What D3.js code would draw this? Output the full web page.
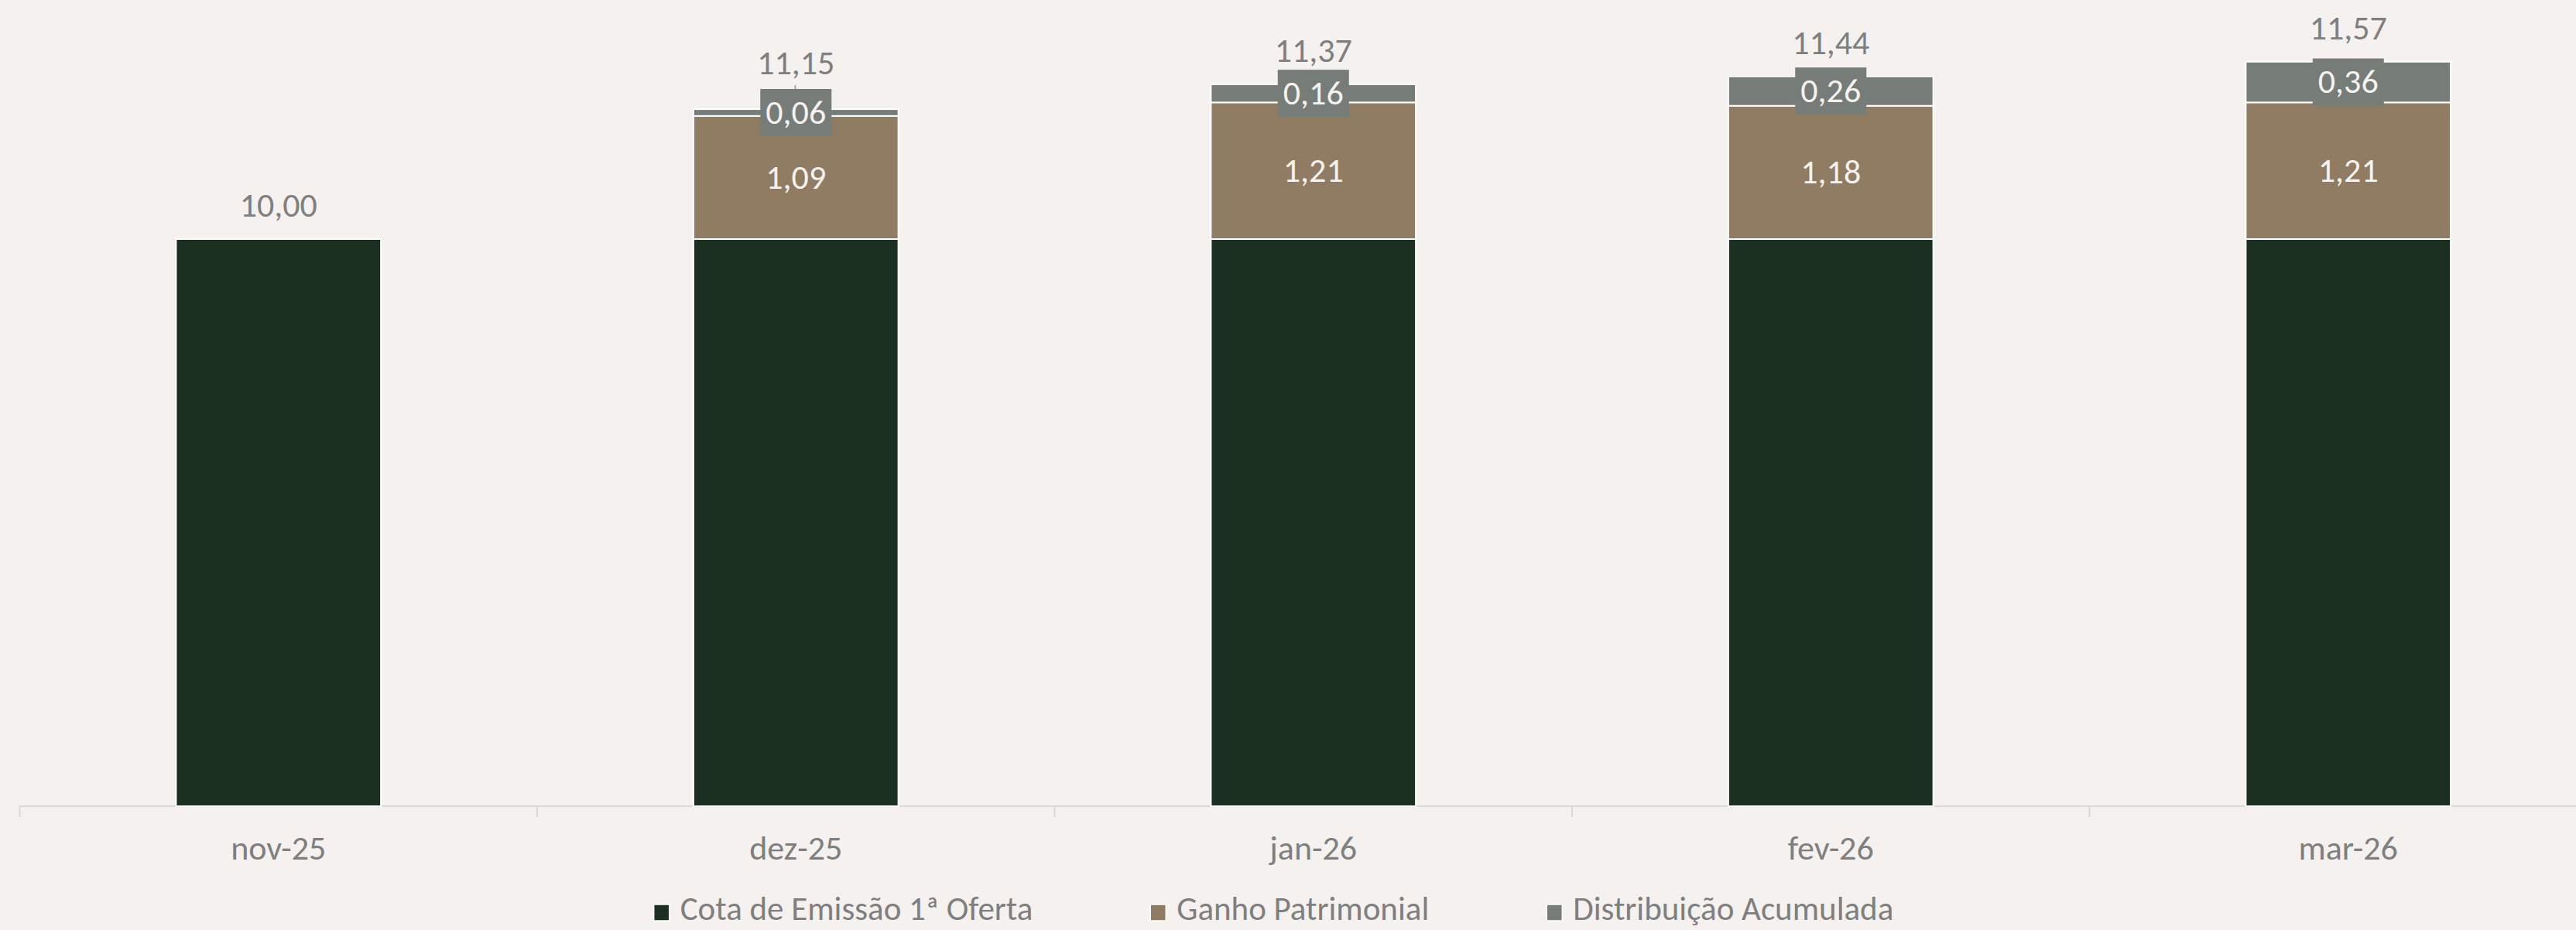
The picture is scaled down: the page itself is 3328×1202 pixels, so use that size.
<!DOCTYPE html>
<html>
<head>
<meta charset="utf-8">
<script src="https://cdn.jsdelivr.net/npm/d3@7.9.0/dist/d3.min.js"></script>
<style>
  html, body { margin: 0; padding: 0; background: #f4f1ee; }
  svg { display: block; }
  text { font-family: Calibri, Carlito, Lato, sans-serif; }
</style>
</head>
<body>
<div id="chart"></div>
<script>
// ---- data ----
const categories = ['nov-25', 'dez-25', 'jan-26', 'fev-26', 'mar-26'];
const cotaEmissao = [10.00, 10.00, 10.00, 10.00, 10.00];
const ganhoPatrimonial = [0, 1.09, 1.21, 1.18, 1.21];
const distribuicao = [0, 0.06, 0.16, 0.26, 0.36];
const seriesNames = ['Cota de Emissão 1ª Oferta', 'Ganho Patrimonial', 'Distribuição Acumulada'];

// ---- layout ----
const width = 3328;
const height = 1202;
const baseY = 1042;
const colors = ['#1b3021', '#8f7c63', '#767d78'];
const grayText = '#7f7f7f';
const fontSize = 44;

const rows = categories.map((c, i) => ({
  cat: c,
  cota: cotaEmissao[i],
  ganho: ganhoPatrimonial[i],
  dist: distribuicao[i],
}));

const stack = d3.stack().keys(['cota', 'ganho', 'dist'])(rows);

const svg = d3.select('#chart').append('svg')
  .attr('width', width)
  .attr('height', height);

svg.append('rect').attr('width', width).attr('height', height).attr('fill', '#f4f1ee');

// band scale: outer padding half of inner so ticks sit at band edges
const x = d3.scaleBand()
  .domain(categories)
  .range([25.5, 3368])
  .paddingInner(0.604)
  .paddingOuter(0.302);

// value axis is broken above the cota (10) level: the top part is stretched
const y = d3.scaleLinear()
  .domain([0, 10, 12])
  .range([baseY, 309, 17]);

// x axis
const xAxis = d3.axisBottom(x).tickSize(0).tickPadding(0).tickFormat('');
const gx = svg.append('g')
  .attr('transform', `translate(0, ${baseY})`)
  .call(xAxis);
gx.select('.domain').attr('stroke', '#d9d9d9').attr('stroke-width', 2)
  .attr('d', `M25.5,0H${width}`);

const gap = x.step() - x.bandwidth();
svg.append('g').selectAll('line')
  .data(categories)
  .join('line')
  .attr('x1', (d) => x(d) - gap / 2)
  .attr('x2', (d) => x(d) - gap / 2)
  .attr('y1', baseY)
  .attr('y2', baseY + 14)
  .attr('stroke', '#d9d9d9')
  .attr('stroke-width', 2);

svg.append('g').selectAll('text')
  .data(categories)
  .join('text')
  .attr('x', (d) => x(d) + x.bandwidth() / 2)
  .attr('y', 1111)
  .attr('text-anchor', 'middle')
  .attr('fill', grayText)
  .style('font-size', fontSize + 'px')
  .text((d) => d);

// bars
svg.append('g').selectAll('g')
  .data(stack)
  .join('g')
  .attr('fill', (d, i) => colors[i])
  .selectAll('rect')
  .data((d) => d.filter((p) => p[1] - p[0] > 0))
  .join('rect')
  .attr('x', (d) => x(d.data.cat))
  .attr('width', x.bandwidth())
  .attr('y', (d) => y(d[1]))
  .attr('height', (d) => y(d[0]) - y(d[1]))
  .attr('stroke', '#ffffff')
  .attr('stroke-width', 2);

const fmt = (v) => v.toFixed(2).replace('.', ',');

// ganho labels
svg.append('g').selectAll('text')
  .data(stack[1].filter((p) => p[1] - p[0] > 0))
  .join('text')
  .attr('x', (d) => x(d.data.cat) + x.bandwidth() / 2)
  .attr('y', (d) => (y(d[0]) + y(d[1])) / 2)
  .attr('dy', '0.32em')
  .attr('text-anchor', 'middle')
  .attr('fill', '#f5f2ef')
  .style('font-size', fontSize + 'px')
  .text((d) => fmt(d.data.ganho));

// total labels (lifted with a leader line when the distribution box is in the way)
const boxW = 92;
const boxH = 61;
const totals = rows.map((r, i) => ({ row: r, top: stack[2][i][1] }));
const lifted = (t) => t.row.dist > 0 && (y(t.row.cota + t.row.ganho) - y(t.top)) < 15;

const gl = svg.append('g');
gl.selectAll('line')
  .data(totals.filter(lifted))
  .join('line')
  .attr('x1', (d) => x(d.row.cat) + x.bandwidth() / 2 - 1)
  .attr('x2', (d) => x(d.row.cat) + x.bandwidth() / 2 + 1)
  .attr('y1', (d) => y(d.top) - 31)
  .attr('y2', (d) => y(d.top) - 5)
  .attr('stroke', '#a6a6a6')
  .attr('stroke-width', 2);

gl.selectAll('text')
  .data(totals)
  .join('text')
  .attr('x', (d) => x(d.row.cat) + x.bandwidth() / 2)
  .attr('y', (d) => y(d.top) - (lifted(d) ? 45 : 29))
  .attr('text-anchor', 'middle')
  .attr('fill', grayText)
  .style('font-size', fontSize + 'px')
  .text((d) => fmt(d.top));

// distribution labels in boxes
const distPts = stack[2].filter((p) => p[1] - p[0] > 0);
const gd = svg.append('g').selectAll('g')
  .data(distPts)
  .join('g')
  .attr('transform', (d) => `translate(${x(d.data.cat) + x.bandwidth() / 2}, ${(y(d[0]) + y(d[1])) / 2})`);
gd.append('rect')
  .attr('x', -boxW / 2)
  .attr('y', -boxH / 2)
  .attr('width', boxW)
  .attr('height', boxH)
  .attr('fill', colors[2]);
gd.append('text')
  .attr('text-anchor', 'middle')
  .attr('dy', '0.32em')
  .attr('fill', '#f5f2ef')
  .style('font-size', fontSize + 'px')
  .text((d) => fmt(d.data.dist));

// legend
const legend = svg.append('g');
const items = legend.selectAll('g')
  .data(seriesNames)
  .join('g');
items.append('rect')
  .attr('y', 1169)
  .attr('width', 20)
  .attr('height', 21)
  .attr('fill', (d, i) => colors[i])
  .attr('stroke', '#ffffff')
  .attr('stroke-width', 1.5);
items.append('text')
  .attr('x', 34)
  .attr('y', 1189)
  .attr('fill', grayText)
  .style('font-size', '43px')
  .text((d) => d);

let widths = [];
items.each(function () {
  widths.push(34 + d3.select(this).select('text').node().getComputedTextLength());
});
const itemGap = 152;
const total = d3.sum(widths) + itemGap * (widths.length - 1);
let cursor = 1645.5 - total / 2;
items.attr('transform', (d, i) => {
  const t = `translate(${cursor}, 0)`;
  cursor += widths[i] + itemGap;
  return t;
});
</script>
</body>
</html>
